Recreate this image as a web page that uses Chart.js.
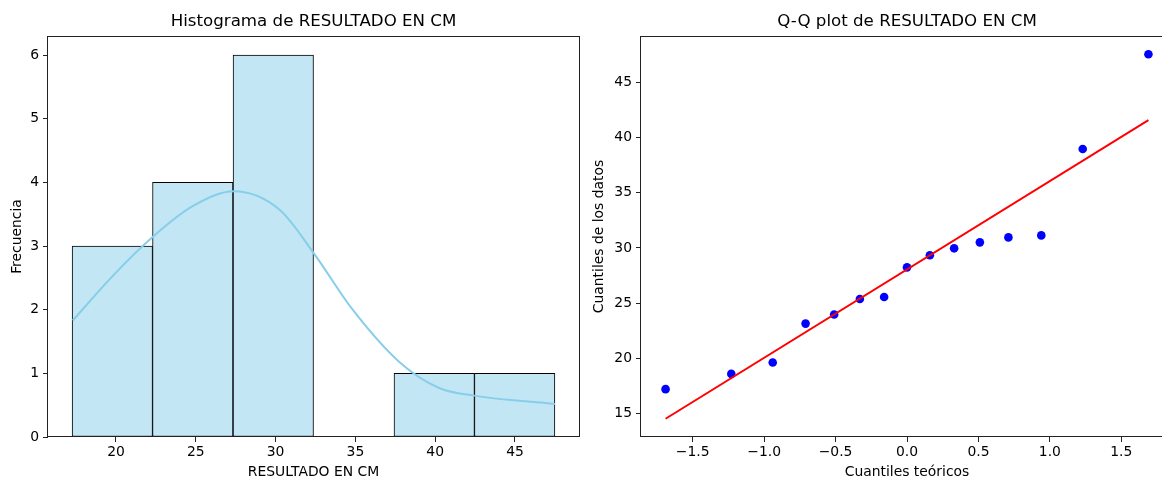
<!DOCTYPE html>
<html>
<head>
<meta charset="utf-8">
<script src="https://cdn.jsdelivr.net/npm/chart.js@4.4.1/dist/chart.umd.min.js"></script>
<style>
  html, body { margin: 0; padding: 0; background: #fff; overflow: hidden; width: 1162px; height: 481px; }
  .wrap { position: absolute; top: 0; }
</style>
</head>
<body>
<div class="wrap" style="left:0"><canvas id="hist" width="590" height="481"></canvas></div>
<div class="wrap" style="left:590px"><canvas id="qq" width="593" height="481"></canvas></div>
<script>
// histogram
const binEdges = [17.25, 22.29, 27.33, 32.38, 37.42, 42.46, 47.5];
const binCounts = [3, 4, 6, 0, 1, 1];
const kdeX = [17.29, 19.83, 22.33, 24.83, 27.4, 30.25, 32.44, 34.83, 37.75, 40.25, 42.44, 47.5];
const kdeY = [1.83, 2.54, 3.15, 3.63, 3.86, 3.57, 2.87, 2.00, 1.18, 0.77, 0.65, 0.52];
const histXTicks = [20, 25, 30, 35, 40, 45];
const histYTicks = [0, 1, 2, 3, 4, 5, 6];

// q-q plot
const qqTheoretical = [-1.69, -1.23, -0.94, -0.71, -0.51, -0.33, -0.16, 0, 0.16, 0.33, 0.51, 0.71, 0.94, 1.23, 1.69];
const qqSample = [17.23, 18.61, 19.64, 23.16, 23.98, 25.39, 25.57, 28.25, 29.34, 29.97, 30.51, 30.96, 31.14, 38.95, 47.53];
const fitLineX = [-1.69, 1.69];
const fitLineY = [14.55, 41.57];
const qqXTicks = [-1.5, -1.0, -0.5, 0, 0.5, 1.0, 1.5];
const qqXTickLabels = ['\u22121.5', '\u22121.0', '\u22120.5', '0.0', '0.5', '1.0', '1.5'];
const qqYTicks = [15, 20, 25, 30, 35, 40, 45];

Chart.defaults.font.family = "'DejaVu Sans', sans-serif";
Chart.defaults.font.size = 13.9;
Chart.defaults.color = '#000';
Chart.defaults.animation = false;
Chart.defaults.events = [];

const ink = '#222';

// axes box like matplotlib spines
const frame = {
  id: 'frame',
  afterDatasetsDraw(chart) {
    const a = chart.chartArea;
    const ctx = chart.ctx;
    ctx.save();
    ctx.strokeStyle = ink;
    ctx.lineWidth = 1;
    ctx.strokeRect(Math.round(a.left) - 0.5, Math.round(a.top) + 0.5,
      Math.round(a.right - a.left) + 1, Math.round(a.bottom - a.top) - 1);
    ctx.restore();
  }
};

const useTicks = list => scale => { scale.ticks = list.map(v => ({ value: v })); };

function axisStyle(extra) {
  return Object.assign({
    grid: { offset: false, drawOnChartArea: false, drawTicks: true, tickLength: 5, tickColor: ink, tickWidth: 1 },
    border: { display: false },
  }, extra);
}

function titleOpts(text) {
  return {
    display: true, text: text, fullSize: false, color: '#000',
    font: { size: 16.67, weight: 'normal' },
    padding: { top: 11.7, bottom: 4.3 }
  };
}

const binCenters = binCounts.map((c, i) => (binEdges[i] + binEdges[i + 1]) / 2);

new Chart(document.getElementById('hist'), {
  type: 'bar',
  data: {
    datasets: [
      {
        type: 'line',
        data: kdeX.map((x, i) => ({ x: x, y: kdeY[i] })),
        xAxisID: 'x',
        borderColor: '#87ceeb',
        borderWidth: 2,
        pointRadius: 0,
        cubicInterpolationMode: 'monotone',
        order: 0
      },
      {
        type: 'bar',
        data: binCenters.map((x, i) => ({ x: x, y: binCounts[i] })),
        xAxisID: 'xb',
        backgroundColor: '#c3e6f5',
        borderColor: '#000',
        borderWidth: 1,
        borderSkipped: false,
        grouped: false,
        barPercentage: 1,
        categoryPercentage: 1,
        order: 1
      }
    ]
  },
  options: {
    responsive: false,
    devicePixelRatio: 1,
    layout: { padding: { left: 0, right: 11, top: 0, bottom: 0 } },
    plugins: { legend: { display: false }, tooltip: { enabled: false }, title: titleOpts('Histograma de RESULTADO EN CM') },
    scales: {
      x: axisStyle({
        type: 'linear', min: 15.74, max: 49.01, offset: false,
        afterBuildTicks: useTicks(histXTicks),
        afterFit: s => { s.height = 44; },
        ticks: { padding: 2, maxRotation: 0, autoSkip: false },
        title: { display: true, text: 'RESULTADO EN CM', font: { size: 13.9 }, padding: { top: 0, bottom: 0 } }
      }),
      xb: {
        type: 'linear', display: false, min: 15.74, max: 49.01, offset: false,
        grid: { offset: false },
        afterBuildTicks: useTicks(binCenters)
      },
      y: axisStyle({
        type: 'linear', min: 0, max: 6.3,
        afterBuildTicks: useTicks(histYTicks),
        afterFit: s => { s.width = 48; },
        ticks: { padding: 4 },
        title: { display: true, text: 'Frecuencia', font: { size: 13.9 }, padding: { top: 8.7, bottom: 0 } }
      })
    }
  },
  plugins: [frame]
});

new Chart(document.getElementById('qq'), {
  type: 'scatter',
  data: {
    datasets: [
      {
        data: fitLineX.map((x, i) => ({ x: x, y: fitLineY[i] })),
        showLine: true,
        borderColor: '#ff0000',
        borderWidth: 2,
        pointRadius: 0,
        order: 0
      },
      {
        data: qqTheoretical.map((x, i) => ({ x: x, y: qqSample[i] })),
        backgroundColor: '#0000ff',
        borderColor: '#0000ff',
        borderWidth: 0,
        pointRadius: 4.3,
        order: 1
      }
    ]
  },
  options: {
    responsive: false,
    devicePixelRatio: 1,
    layout: { padding: { left: 0, right: 10, top: 0, bottom: 0 } },
    plugins: { legend: { display: false }, tooltip: { enabled: false }, title: titleOpts('Q-Q plot de RESULTADO EN CM') },
    scales: {
      x: axisStyle({
        type: 'linear', min: -1.862, max: 1.862,
        afterBuildTicks: useTicks(qqXTicks),
        afterFit: s => { s.height = 44; },
        ticks: { padding: 2, maxRotation: 0, autoSkip: false,
          callback: (v) => qqXTickLabels[qqXTicks.indexOf(v)] },
        title: { display: true, text: 'Cuantiles teóricos', font: { size: 13.9 }, padding: { top: 0, bottom: 0 } }
      }),
      y: axisStyle({
        type: 'linear', min: 12.9, max: 49.18,
        afterBuildTicks: useTicks(qqYTicks),
        afterFit: s => { s.width = 51; },
        ticks: { padding: 4 },
        title: { display: true, text: 'Cuantiles de los datos', font: { size: 13.9 }, padding: { top: 1, bottom: 0 } }
      })
    }
  },
  plugins: [frame]
});
</script>
</body>
</html>
